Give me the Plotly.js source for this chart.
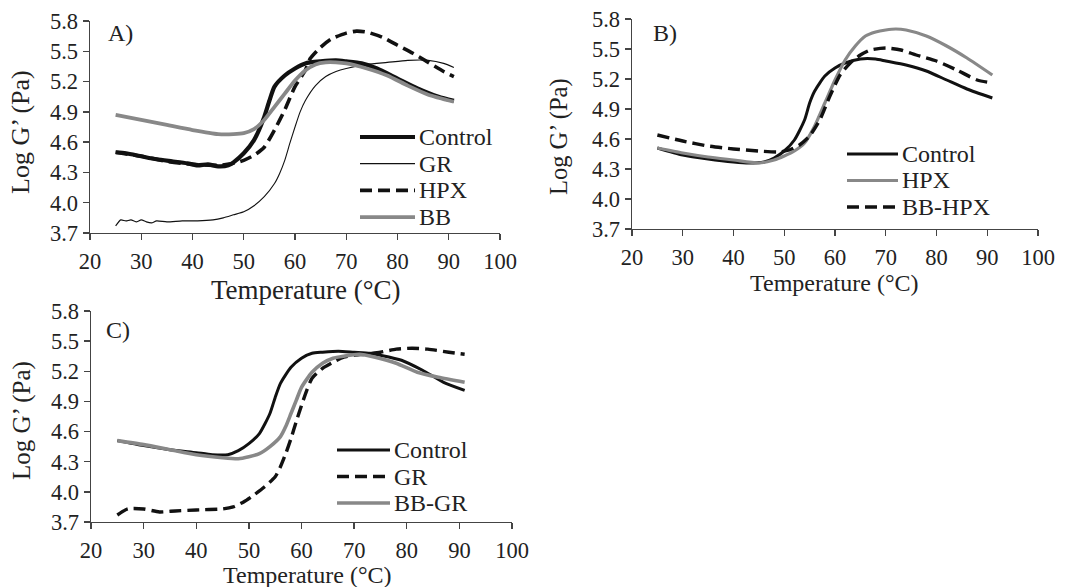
<!DOCTYPE html>
<html>
<head>
<meta charset="utf-8">
<script src="https://cdn.plot.ly/plotly-3.0.1.min.js"></script>
<style>
  html, body { margin: 0; padding: 0; background: #fff; }
  #chart { width: 1091px; height: 587px; }
</style>
</head>
<body>
<div id="chart"></div>
<script>
// Storage modulus (log G') versus temperature, three comparisons.

// ---------- Panel A ----------
const tCtrlA = [25, 27, 30, 33, 36, 39, 41, 43, 45, 47, 48, 50, 52, 54, 55, 56, 58, 60, 62, 65, 68, 70, 73, 76, 80, 84, 88, 91];
const ctrlA  = [4.50, 4.49, 4.46, 4.43, 4.41, 4.39, 4.37, 4.38, 4.36, 4.37, 4.40, 4.49, 4.62, 4.85, 5.01, 5.15, 5.26, 5.33, 5.38, 5.40, 5.41, 5.40, 5.38, 5.33, 5.23, 5.13, 5.05, 5.01];

const tGrA = [25, 26, 27, 28, 29, 30, 31, 32, 33, 35, 38, 41, 44, 46, 48, 50, 52, 54, 56, 57, 58, 59, 60, 61, 62, 64, 66, 68, 70, 74, 78, 82, 86, 89, 91];
const grA  = [3.77, 3.83, 3.82, 3.83, 3.81, 3.83, 3.81, 3.80, 3.82, 3.81, 3.82, 3.82, 3.83, 3.85, 3.88, 3.91, 3.97, 4.06, 4.19, 4.29, 4.42, 4.59, 4.75, 4.90, 5.01, 5.16, 5.25, 5.30, 5.33, 5.37, 5.39, 5.41, 5.41, 5.38, 5.34];

const tHpxA = [25, 30, 35, 40, 45, 48, 50, 52, 54, 56, 58, 60, 62, 63, 65, 67, 70, 72, 74, 77, 80, 83, 86, 89, 91];
const hpxA  = [4.50, 4.46, 4.41, 4.38, 4.37, 4.39, 4.42, 4.47, 4.55, 4.72, 4.92, 5.15, 5.31, 5.43, 5.54, 5.62, 5.68, 5.70, 5.69, 5.64, 5.56, 5.48, 5.39, 5.30, 5.25];

const tBbA = [25, 30, 35, 40, 45, 48, 50, 52, 54, 56, 58, 60, 62, 64, 66, 68, 70, 74, 78, 82, 86, 91];
const bbA  = [4.87, 4.82, 4.77, 4.72, 4.68, 4.68, 4.69, 4.73, 4.82, 4.95, 5.08, 5.21, 5.31, 5.37, 5.39, 5.39, 5.38, 5.33, 5.26, 5.16, 5.07, 5.00];

// ---------- Panel B ----------
const tCtrlB = [25, 30, 35, 40, 43, 46, 48, 50, 52, 54, 55, 56, 58, 60, 62, 65, 68, 70, 74, 78, 82, 86, 91];
const ctrlB  = [4.51, 4.44, 4.40, 4.37, 4.36, 4.37, 4.41, 4.48, 4.59, 4.79, 4.96, 5.08, 5.23, 5.31, 5.36, 5.40, 5.40, 5.38, 5.34, 5.28, 5.19, 5.10, 5.01];

const tHpxB = [25, 30, 35, 40, 45, 48, 50, 52, 54, 56, 58, 60, 62, 64, 66, 68, 70, 72, 74, 78, 82, 86, 91];
const hpxB  = [4.51, 4.46, 4.42, 4.39, 4.36, 4.39, 4.43, 4.48, 4.56, 4.73, 4.96, 5.19, 5.39, 5.53, 5.63, 5.67, 5.69, 5.70, 5.69, 5.63, 5.53, 5.41, 5.24];

const tBbHpxB = [25, 30, 35, 40, 45, 49, 51, 53, 55, 57, 59, 61, 63, 65, 67, 70, 73, 76, 80, 84, 88, 91];
const bbHpxB  = [4.64, 4.58, 4.53, 4.50, 4.48, 4.47, 4.49, 4.54, 4.63, 4.79, 5.03, 5.24, 5.36, 5.44, 5.49, 5.51, 5.49, 5.44, 5.38, 5.29, 5.19, 5.16];

// ---------- Panel C ----------
const tCtrlC = [25, 30, 35, 40, 43, 46, 48, 50, 52, 54, 55, 56, 58, 60, 62, 64, 67, 70, 73, 75, 79, 83, 87, 91];
const ctrlC  = [4.51, 4.46, 4.42, 4.39, 4.37, 4.37, 4.41, 4.48, 4.58, 4.78, 4.94, 5.08, 5.24, 5.33, 5.38, 5.39, 5.40, 5.39, 5.38, 5.36, 5.31, 5.21, 5.09, 5.01];

const tGrC = [25, 27, 30, 33, 36, 40, 45, 47, 49, 51, 53, 55, 56, 57, 58, 59, 60, 61, 62, 64, 66, 68, 70, 72, 75, 78, 81, 84, 88, 91];
const grC  = [3.77, 3.83, 3.83, 3.80, 3.81, 3.82, 3.83, 3.85, 3.90, 3.97, 4.05, 4.15, 4.25, 4.38, 4.53, 4.70, 4.86, 5.01, 5.13, 5.23, 5.29, 5.34, 5.36, 5.37, 5.39, 5.42, 5.43, 5.42, 5.39, 5.37];

const tBbGrC = [25, 30, 35, 40, 45, 48, 50, 52, 54, 56, 57, 58, 59, 60, 62, 64, 66, 68, 71, 74, 78, 82, 86, 91];
const bbGrC  = [4.51, 4.47, 4.42, 4.37, 4.34, 4.33, 4.35, 4.38, 4.45, 4.55, 4.65, 4.78, 4.91, 5.04, 5.19, 5.28, 5.33, 5.35, 5.37, 5.34, 5.28, 5.19, 5.14, 5.09];

// Axis ticks
const xTicks = [20, 30, 40, 50, 60, 70, 80, 90, 100];
const yTicks = [3.7, 4.0, 4.3, 4.6, 4.9, 5.2, 5.5, 5.8];
const yTickText = yTicks.map(v => v.toFixed(1));

const panelLabels = ['A)', 'B)', 'C)'];
const xTitle = 'Temperature (°C)';
const yTitle = 'Log G\u2019 (Pa)';

// ---------- styling ----------
const W = 1091, H = 587;
const BLACK = '#111111';
const GREY = '#888888';
const DASH = '12px,6px';
const FONT = 'Liberation Serif, Times New Roman, serif';
const TXT = '#222222';

const styles = {
  ctrlA: { color: BLACK, width: 4.2 },
  grA:   { color: BLACK, width: 1.1 },
  hpxA:  { color: BLACK, width: 3.6, dash: DASH },
  bbA:   { color: GREY,  width: 3.8 },
  ctrlB: { color: BLACK, width: 3.0 },
  hpxB:  { color: GREY,  width: 3.2 },
  bbHpxB:{ color: BLACK, width: 3.4, dash: DASH },
  ctrlC: { color: BLACK, width: 3.0 },
  grC:   { color: BLACK, width: 3.4, dash: DASH },
  bbGrC: { color: GREY,  width: 3.6 }
};

function series(x, y, name, style, axes) {
  return {
    x: x, y: y, name: name, type: 'scatter', mode: 'lines',
    line: Object.assign({ shape: 'spline', smoothing: 0.6 }, style),
    xaxis: axes[0], yaxis: axes[1], showlegend: false, hoverinfo: 'skip'
  };
}

// pixel boxes for each panel plus placement of titles, keys and the panel letter
const panels = [
  { axes: ['x', 'y'], xpx: [90, 500], ypx: [21, 233],
    items: [
      [tCtrlA, ctrlA, 'Control', styles.ctrlA],
      [tGrA, grA, 'GR', styles.grA],
      [tHpxA, hpxA, 'HPX', styles.hpxA],
      [tBbA, bbA, 'BB', styles.bbA]
    ],
    legend: { x0: 360, x1: 415, y0: 137, dy: 26.7 },
    label: [106, 33],
    xt: { x: 306, y: 290, size: 27 }, yt: { x: 21, y: 132, size: 26 } },
  { axes: ['x2', 'y2'], xpx: [632, 1038], ypx: [19, 229],
    items: [
      [tCtrlB, ctrlB, 'Control', styles.ctrlB],
      [tHpxB, hpxB, 'HPX', styles.hpxB],
      [tBbHpxB, bbHpxB, 'BB-HPX', styles.bbHpxB]
    ],
    legend: { x0: 847, x1: 898, y0: 154, dy: 26.5 },
    label: [651, 33],
    xt: { x: 834, y: 283, size: 24 }, yt: { x: 559, y: 137, size: 24.5 } },
  { axes: ['x3', 'y3'], xpx: [91, 512], ypx: [311, 522],
    items: [
      [tCtrlC, ctrlC, 'Control', styles.ctrlC],
      [tGrC, grC, 'GR', styles.grC],
      [tBbGrC, bbGrC, 'BB-GR', styles.bbGrC]
    ],
    legend: { x0: 337, x1: 390, y0: 450, dy: 26.5 },
    label: [104, 330],
    xt: { x: 307, y: 575, size: 24 }, yt: { x: 22, y: 421, size: 25 } }
];

const px = v => v / W;
const py = v => 1 - v / H;

const traces = [];
const shapes = [];
const annotations = [];
const layout = {
  width: W, height: H,
  margin: { l: 0, r: 0, t: 0, b: 0 },
  paper_bgcolor: '#ffffff', plot_bgcolor: '#ffffff',
  font: { family: FONT, color: TXT, size: 23 },
  showlegend: false
};

function note(x, y, text, size, angle) {
  return {
    xref: 'paper', yref: 'paper', x: px(x), y: py(y),
    xanchor: 'center', yanchor: 'middle', showarrow: false,
    text: text, textangle: angle || 0,
    font: { family: FONT, size: size, color: TXT }
  };
}

panels.forEach((p, i) => {
  const sfx = i === 0 ? '' : String(i + 1);
  p.items.forEach(it => traces.push(series(it[0], it[1], it[2], it[3], p.axes)));

  const common = {
    showgrid: false, zeroline: false, showline: true, linecolor: '#444', linewidth: 1.4,
    ticks: 'outside', ticklen: 6, tickwidth: 1.4, tickcolor: '#444',
    tickfont: { family: FONT, size: 22.5, color: TXT }
  };
  layout['xaxis' + sfx] = Object.assign({
    domain: [px(p.xpx[0]), px(p.xpx[1])], anchor: p.axes[1],
    range: [20, 100], tickvals: xTicks, ticktext: xTicks.map(String),
    ticklabelstandoff: 2
  }, common);
  layout['yaxis' + sfx] = Object.assign({
    domain: [py(p.ypx[1]), py(p.ypx[0])], anchor: p.axes[0],
    range: [3.7, 5.8], tickvals: yTicks, ticktext: yTickText
  }, common);

  // axis titles
  annotations.push(note(p.xt.x, p.xt.y, xTitle, p.xt.size, 0));
  annotations.push(note(p.yt.x, p.yt.y, yTitle, p.yt.size, -90));

  // legend keys drawn as short line samples followed by the series name
  p.items.forEach((it, k) => {
    const yy = p.legend.y0 + k * p.legend.dy;
    const st = it[3];
    shapes.push({
      type: 'line', xref: 'paper', yref: 'paper',
      x0: px(p.legend.x0), x1: px(p.legend.x1), y0: py(yy), y1: py(yy),
      line: { color: st.color, width: st.width < 2 ? 1.3 : st.width, dash: st.dash || 'solid' }
    });
    annotations.push({
      xref: 'paper', yref: 'paper', x: px(p.legend.x1 + 2), y: py(yy),
      xanchor: 'left', yanchor: 'middle', showarrow: false,
      text: it[2], font: { family: FONT, size: 24, color: TXT }
    });
  });

  annotations.push({
    xref: 'paper', yref: 'paper', x: px(p.label[0]), y: py(p.label[1]),
    xanchor: 'left', yanchor: 'middle', showarrow: false,
    text: panelLabels[i], font: { family: FONT, size: 24, color: TXT }
  });
});

layout.shapes = shapes;
layout.annotations = annotations;

Plotly.newPlot('chart', traces, layout, { staticPlot: true, displayModeBar: false });
</script>
</body>
</html>
